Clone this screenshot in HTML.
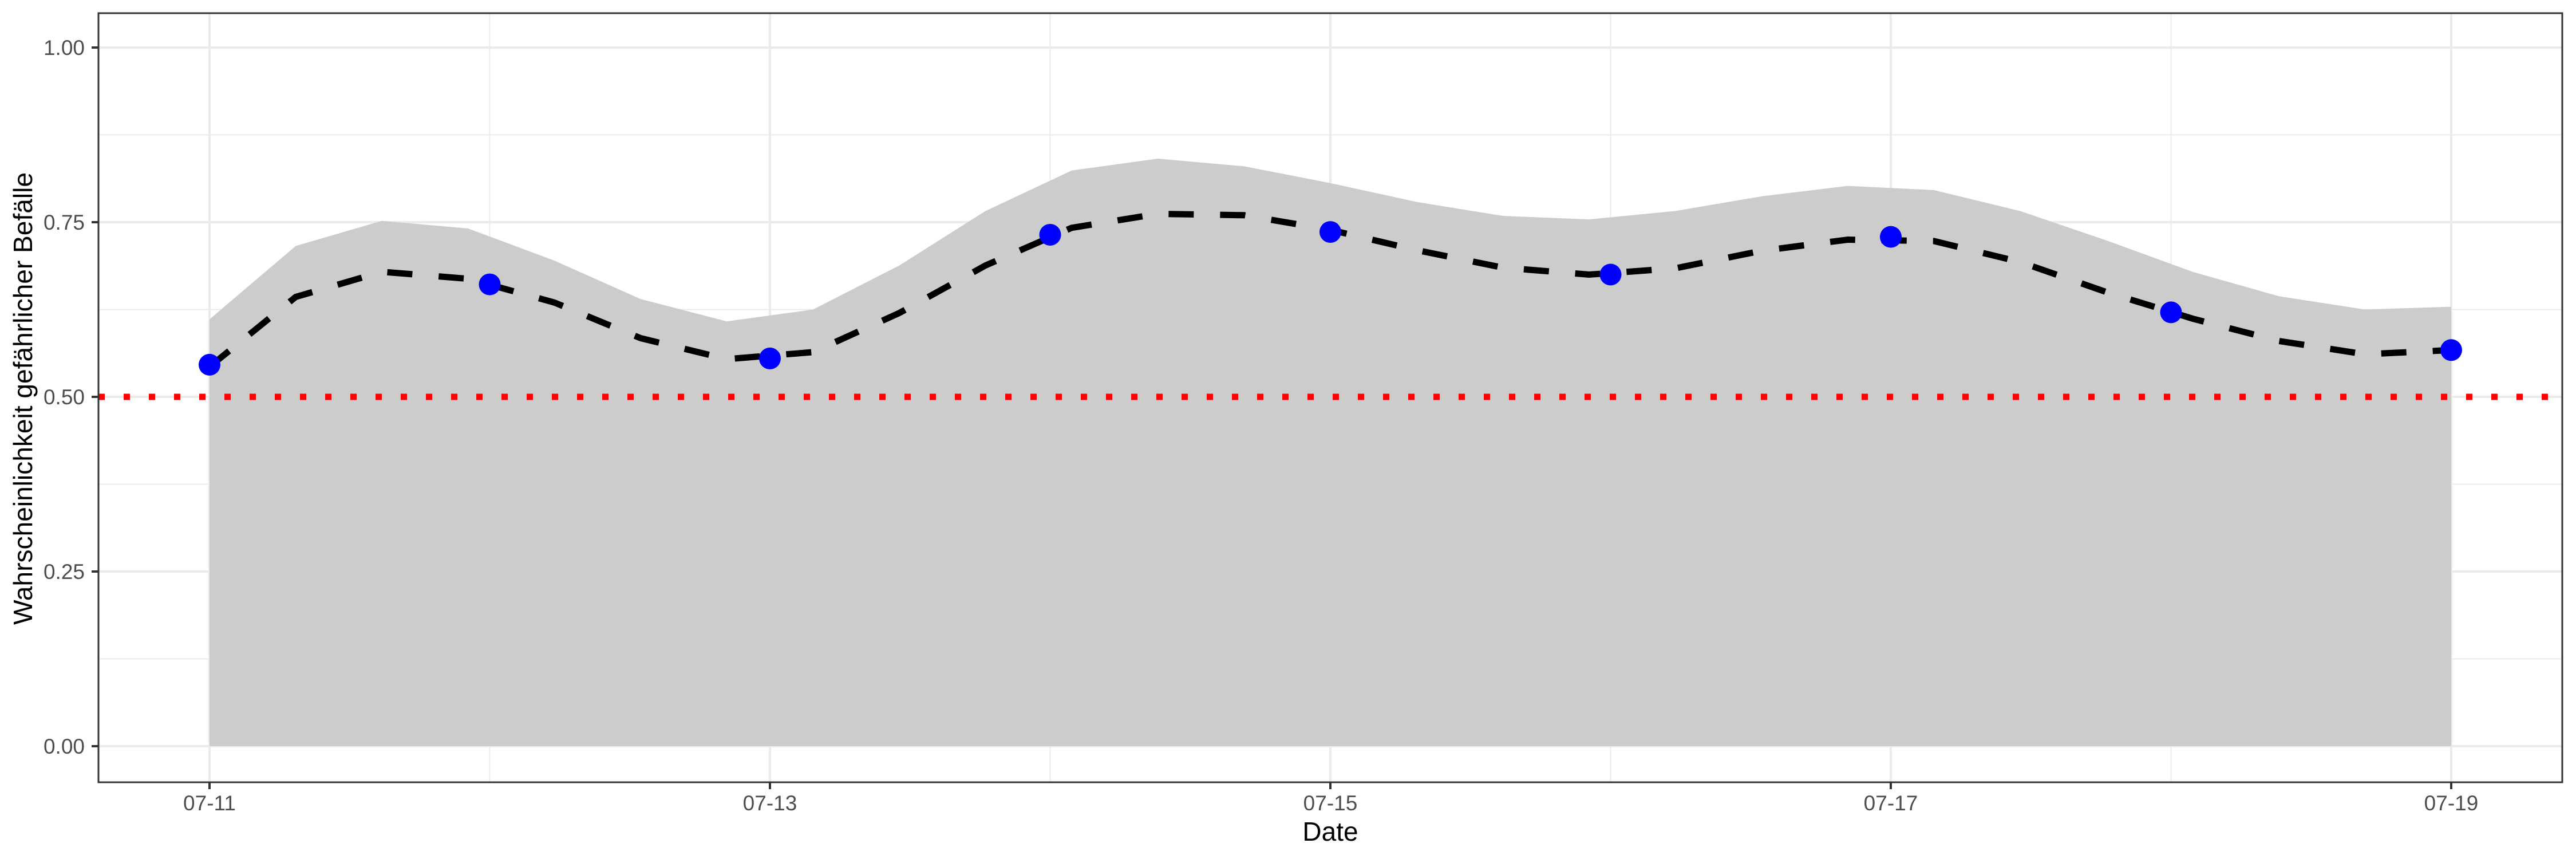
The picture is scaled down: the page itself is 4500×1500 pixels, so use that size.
<!DOCTYPE html>
<html><head><meta charset="utf-8"><style>
html,body{margin:0;padding:0;background:#fff}
svg{display:block}
text{font-family:"Liberation Sans",Arial,sans-serif}
</style></head><body>
<svg id="chart" width="4500" height="1500" xmlns="http://www.w3.org/2000/svg">
<g id="grid"></g>
<g id="ribbon"></g>
<g id="lines"></g>
<g id="pts"></g>
<rect x="172" y="23" width="4304" height="1343" fill="none" stroke="#333" stroke-width="3"/>
<g id="axes"></g>
<text x="2324" y="1468" font-size="46" text-anchor="middle" fill="#000">Date</text>
<text transform="translate(56,696) rotate(-90)" font-size="46" text-anchor="middle" fill="#000" textLength="790" lengthAdjust="spacingAndGlyphs">Wahrscheinlichkeit gefährlicher Befälle</text>
</svg>
<script>
const pointDays = [11,12,13,14,15,16,17,18,19];
const pointValues = [0.546,0.661,0.555,0.732,0.736,0.675,0.729,0.621,0.567];
const smoothValues = [0.543,0.643,0.679,0.669,0.635,0.584,0.554,0.564,0.620,0.688,0.742,0.762,0.760,0.739,0.710,0.685,0.675,0.684,0.709,0.725,0.723,0.693,0.650,0.612,0.580,0.561,0.567];
const upperValues = [0.611,0.716,0.752,0.741,0.695,0.640,0.608,0.625,0.688,0.766,0.824,0.841,0.830,0.806,0.779,0.759,0.754,0.766,0.787,0.802,0.796,0.766,0.724,0.679,0.644,0.625,0.629];
const xTickDays = [11,13,15,17,19];
const xTickLabels = ["07-11","07-13","07-15","07-17","07-19"];
const yTicks = [0,0.25,0.5,0.75,1];
const yTickLabels = ["0.00","0.25","0.50","0.75","1.00"];
const threshold = 0.5;

const NS="http://www.w3.org/2000/svg";
const X0=172,X1=4476,Y0=23,Y1=1366;
const xs=d=>366+(d-11)*489.5;
const ys=v=>1303-v*1220;
function mk(tag,attrs,parent){const e=document.createElementNS(NS,tag);for(const k in attrs)e.setAttribute(k,attrs[k]);parent.appendChild(e);return e;}
const grid=document.getElementById('grid'),rib=document.getElementById('ribbon'),lines=document.getElementById('lines'),pts=document.getElementById('pts'),axes=document.getElementById('axes');
// minor y grid
for(let i=0;i<yTicks.length-1;i++){const v=(yTicks[i]+yTicks[i+1])/2;const l=mk('line',{x1:X0,x2:X1,y1:ys(v),y2:ys(v),stroke:'#ebebeb','stroke-width':2},grid);

}
// minor x grid
for(let i=0;i<xTickDays.length-1;i++){const d=(xTickDays[i]+xTickDays[i+1])/2;const l=mk('line',{x1:xs(d),x2:xs(d),y1:Y0,y2:Y1,stroke:'#ebebeb','stroke-width':2},grid);

}
yTicks.forEach((v,i)=>{const l=mk('line',{x1:X0,x2:X1,y1:ys(v),y2:ys(v),stroke:'#ebebeb','stroke-width':4},grid);


const t=mk('line',{x1:X0-12,x2:X0,y1:ys(v),y2:ys(v),stroke:'#333','stroke-width':4},axes);


const tx=mk('text',{x:148,y:ys(v)+13,'font-size':37,'text-anchor':'end',fill:'#4d4d4d'},axes);tx.textContent=yTickLabels[i];

});
xTickDays.forEach((d,i)=>{const l=mk('line',{x1:xs(d),x2:xs(d),y1:Y0,y2:Y1,stroke:'#ebebeb','stroke-width':4},grid);


const t=mk('line',{x1:xs(d),x2:xs(d),y1:Y1,y2:Y1+12,stroke:'#333','stroke-width':4},axes);


const tx=mk('text',{x:xs(d),y:1415,'font-size':37,'text-anchor':'middle',fill:'#4d4d4d'},axes);tx.textContent=xTickLabels[i];

});
const n=upperValues.length,step=8/(n-1);
let p='M'+xs(11)+','+ys(0);
upperValues.forEach((v,i)=>{p+=' L'+xs(11+i*step).toFixed(1)+','+ys(v).toFixed(1);});
p+=' L'+xs(19)+','+ys(0)+' Z';
const r=mk('path',{d:p,fill:'#cccccc'},rib);


const th=mk('line',{x1:X0,x2:X1,y1:ys(threshold),y2:ys(threshold),stroke:'#ff0000','stroke-width':11,'stroke-dasharray':'11 33'},lines);


const sp=smoothValues.map((v,i)=>xs(11+i*(8/(smoothValues.length-1))).toFixed(1)+','+ys(v).toFixed(1)).join(' ');
const sl=mk('polyline',{points:sp,fill:'none',stroke:'#000','stroke-width':11,'stroke-dasharray':'44 46'},lines);


pointDays.forEach((d,i)=>{const c=mk('circle',{cx:xs(d),cy:ys(pointValues[i]),r:19,fill:'#0000ff'},pts);

});
</script>
</body></html>
